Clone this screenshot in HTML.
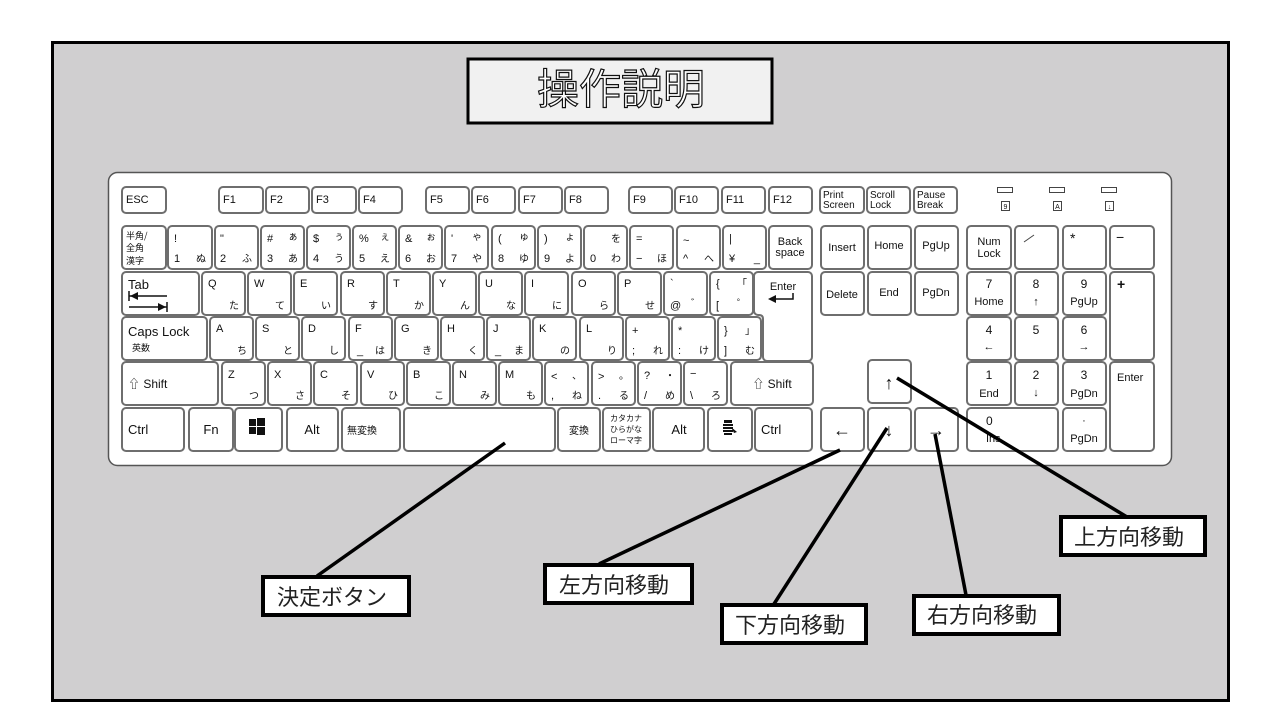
<!DOCTYPE html>
<html><head><meta charset="utf-8"><style>
html,body{margin:0;padding:0;background:#fff;}
svg{display:block}
.k{fill:#fff;stroke:#6e6e6e;stroke-width:2}
text{font-family:"Liberation Sans","Noto Sans CJK JP",sans-serif;fill:#111}
.s{font-size:11px}
.j{font-size:10px;font-family:"Noto Sans CJK JP",sans-serif}
.lb{font-size:22px;font-family:"Liberation Sans","Noto Sans CJK JP",sans-serif;fill:#222}
</style></head><body>
<svg width="1280" height="720" viewBox="0 0 1280 720" xmlns="http://www.w3.org/2000/svg">
<rect x="52.5" y="42.5" width="1176" height="658" fill="#d0cfd0" stroke="#000" stroke-width="3"/>
<rect x="468" y="59" width="304" height="64" fill="#f1f1f1" stroke="#000" stroke-width="3"/>
<text x="621" y="104" text-anchor="middle" style="font-size:42px;font-family:'Noto Sans CJK JP',sans-serif;fill:#fff;stroke:#111;stroke-width:1.2">操作説明</text>
<rect x="108.5" y="172.5" width="1063" height="293" rx="9" fill="#fff" stroke="#555" stroke-width="1.5"/>
<g class="s">
<rect class="k" x="122" y="187" width="44" height="26" rx="4"/><text x="126" y="203">ESC</text>
<rect class="k" x="219" y="187" width="44" height="26" rx="4"/><text x="223" y="203">F1</text>
<rect class="k" x="266" y="187" width="43" height="26" rx="4"/><text x="270" y="203">F2</text>
<rect class="k" x="312" y="187" width="44" height="26" rx="4"/><text x="316" y="203">F3</text>
<rect class="k" x="359" y="187" width="43" height="26" rx="4"/><text x="363" y="203">F4</text>
<rect class="k" x="426" y="187" width="43" height="26" rx="4"/><text x="430" y="203">F5</text>
<rect class="k" x="472" y="187" width="43" height="26" rx="4"/><text x="476" y="203">F6</text>
<rect class="k" x="519" y="187" width="43" height="26" rx="4"/><text x="523" y="203">F7</text>
<rect class="k" x="565" y="187" width="43" height="26" rx="4"/><text x="569" y="203">F8</text>
<rect class="k" x="629" y="187" width="43" height="26" rx="4"/><text x="633" y="203">F9</text>
<rect class="k" x="675" y="187" width="43" height="26" rx="4"/><text x="679" y="203">F10</text>
<rect class="k" x="722" y="187" width="43" height="26" rx="4"/><text x="726" y="203">F11</text>
<rect class="k" x="769" y="187" width="43" height="26" rx="4"/><text x="773" y="203">F12</text>
<rect class="k" x="820" y="187" width="44" height="26" rx="4"/><text x="823" y="198" style="font-size:10px">Print</text><text x="823" y="208" style="font-size:10px">Screen</text>
<rect class="k" x="867" y="187" width="43" height="26" rx="4"/><text x="870" y="198" style="font-size:10px">Scroll</text><text x="870" y="208" style="font-size:10px">Lock</text>
<rect class="k" x="914" y="187" width="43" height="26" rx="4"/><text x="917" y="198" style="font-size:10px">Pause</text><text x="917" y="208" style="font-size:10px">Break</text>
</g>
<g fill="#fff" stroke="#444" stroke-width="1">
<rect x="997.5" y="187.5" width="15" height="5"/><rect x="1001.5" y="201.5" width="8" height="9"/>
<rect x="1049.5" y="187.5" width="15" height="5"/><rect x="1053.5" y="201.5" width="8" height="9"/>
<rect x="1101.5" y="187.5" width="15" height="5"/><rect x="1105.5" y="201.5" width="8" height="9"/>
</g>
<text x="1005.5" y="209" text-anchor="middle" style="font-size:7px">9</text>
<text x="1057.5" y="209" text-anchor="middle" style="font-size:7px">A</text>
<text x="1109.5" y="209" text-anchor="middle" style="font-size:7px">↓</text>

<g class="s">
<rect class="k" x="122" y="226" width="44" height="43" rx="4"/>
<text class="j" x="126" y="239" style="font-size:9px">半角/</text><text class="j" x="126" y="251" style="font-size:9px">全角</text><text class="j" x="126" y="264" style="font-size:9px">漢字</text>
<rect class="k" x="168" y="226" width="44" height="43" rx="4"/><text x="174" y="242">!</text><text x="174" y="262">1</text><text class="j" x="206" y="262" text-anchor="end">ぬ</text>
<rect class="k" x="215" y="226" width="43" height="43" rx="4"/><text x="220" y="242">"</text><text x="220" y="262">2</text><text class="j" x="252" y="262" text-anchor="end">ふ</text>
<rect class="k" x="261" y="226" width="43" height="43" rx="4"/><text x="267" y="242">#</text><text class="j" x="298" y="240" text-anchor="end">ぁ</text><text x="267" y="262">3</text><text class="j" x="298" y="262" text-anchor="end">あ</text>
<rect class="k" x="307" y="226" width="43" height="43" rx="4"/><text x="313" y="242">$</text><text class="j" x="344" y="240" text-anchor="end">ぅ</text><text x="313" y="262">4</text><text class="j" x="344" y="262" text-anchor="end">う</text>
<rect class="k" x="353" y="226" width="43" height="43" rx="4"/><text x="359" y="242">%</text><text class="j" x="390" y="240" text-anchor="end">ぇ</text><text x="359" y="262">5</text><text class="j" x="390" y="262" text-anchor="end">え</text>
<rect class="k" x="399" y="226" width="43" height="43" rx="4"/><text x="405" y="242">&amp;</text><text class="j" x="436" y="240" text-anchor="end">ぉ</text><text x="405" y="262">6</text><text class="j" x="436" y="262" text-anchor="end">お</text>
<rect class="k" x="445" y="226" width="43" height="43" rx="4"/><text x="451" y="242">'</text><text class="j" x="482" y="240" text-anchor="end">ゃ</text><text x="451" y="262">7</text><text class="j" x="482" y="262" text-anchor="end">や</text>
<rect class="k" x="492" y="226" width="43" height="43" rx="4"/><text x="498" y="242">(</text><text class="j" x="529" y="240" text-anchor="end">ゅ</text><text x="498" y="262">8</text><text class="j" x="529" y="262" text-anchor="end">ゆ</text>
<rect class="k" x="538" y="226" width="43" height="43" rx="4"/><text x="544" y="242">)</text><text class="j" x="575" y="240" text-anchor="end">ょ</text><text x="544" y="262">9</text><text class="j" x="575" y="262" text-anchor="end">よ</text>
<rect class="k" x="584" y="226" width="43" height="43" rx="4"/><text class="j" x="621" y="242" text-anchor="end">を</text><text x="590" y="262">0</text><text class="j" x="621" y="262" text-anchor="end">わ</text>
<rect class="k" x="630" y="226" width="43" height="43" rx="4"/><text x="636" y="242">=</text><text x="636" y="262">−</text><text class="j" x="667" y="262" text-anchor="end">ほ</text>
<rect class="k" x="677" y="226" width="43" height="43" rx="4"/><text x="683" y="244">~</text><text x="683" y="262">^</text><text class="j" x="714" y="262" text-anchor="end">へ</text>
<rect class="k" x="723" y="226" width="43" height="43" rx="4"/><text x="729" y="242">|</text><text x="729" y="262">¥</text><text x="760" y="262" text-anchor="end">_</text>
<rect class="k" x="769" y="226" width="43" height="43" rx="4"/><text x="790" y="245" text-anchor="middle">Back</text><text x="790" y="256" text-anchor="middle">space</text>
</g>
<g class="s">
<rect class="k" x="122" y="272" width="77" height="43" rx="4"/><text x="128" y="289" style="font-size:13px">Tab</text>
<path d="M129 296h38M129 291v10M167 307h-38M167 302v10" stroke="#111" stroke-width="1.5" fill="none"/>
<path d="M130 296l8-4v8zM166 307l-8-4v8z" fill="#111"/>
<rect class="k" x="202" y="272" width="43" height="43" rx="4"/><text x="208" y="287">Q</text><text class="j" x="239" y="309" text-anchor="end">た</text>
<rect class="k" x="248" y="272" width="43" height="43" rx="4"/><text x="254" y="287">W</text><text class="j" x="285" y="309" text-anchor="end">て</text>
<rect class="k" x="294" y="272" width="43" height="43" rx="4"/><text x="300" y="287">E</text><text class="j" x="331" y="309" text-anchor="end">い</text>
<rect class="k" x="341" y="272" width="43" height="43" rx="4"/><text x="347" y="287">R</text><text class="j" x="378" y="309" text-anchor="end">す</text>
<rect class="k" x="387" y="272" width="43" height="43" rx="4"/><text x="393" y="287">T</text><text class="j" x="424" y="309" text-anchor="end">か</text>
<rect class="k" x="433" y="272" width="43" height="43" rx="4"/><text x="439" y="287">Y</text><text class="j" x="470" y="309" text-anchor="end">ん</text>
<rect class="k" x="479" y="272" width="43" height="43" rx="4"/><text x="485" y="287">U</text><text class="j" x="516" y="309" text-anchor="end">な</text>
<rect class="k" x="525" y="272" width="43" height="43" rx="4"/><text x="531" y="287">I</text><text class="j" x="562" y="309" text-anchor="end">に</text>
<rect class="k" x="572" y="272" width="43" height="43" rx="4"/><text x="578" y="287">O</text><text class="j" x="609" y="309" text-anchor="end">ら</text>
<rect class="k" x="618" y="272" width="43" height="43" rx="4"/><text x="624" y="287">P</text><text class="j" x="655" y="309" text-anchor="end">せ</text>
<rect class="k" x="664" y="272" width="43" height="43" rx="4"/><text x="670" y="287">`</text><text x="670" y="309">@</text><text class="j" x="701" y="307" text-anchor="end">゛</text>
<rect class="k" x="710" y="272" width="43" height="43" rx="4"/><text x="716" y="287">{</text><text class="j" x="747" y="287" text-anchor="end">「</text><text x="716" y="309">[</text><text class="j" x="747" y="307" text-anchor="end">゜</text>
<path class="k" d="M758 272h50a4 4 0 0 1 4 4v81a4 4 0 0 1-4 4h-41a4 4 0 0 1-4-4v-38q0-4-4-4h-1a4 4 0 0 1-4-4v-35a4 4 0 0 1 4-4z"/>
<text x="783" y="290" text-anchor="middle">Enter</text>
<path d="M770 299h23v-6" stroke="#111" stroke-width="1.5" fill="none"/>
<path d="M768 299l8-4v8z" fill="#111"/>
</g>
<g class="s">
<rect class="k" x="122" y="317" width="85" height="43" rx="4"/><text x="128" y="336" style="font-size:13px">Caps Lock</text><text class="j" x="132" y="351" style="font-size:9px">英数</text>
<rect class="k" x="210" y="317" width="43" height="43" rx="4"/><text x="216" y="332">A</text><text class="j" x="247" y="354" text-anchor="end">ち</text>
<rect class="k" x="256" y="317" width="43" height="43" rx="4"/><text x="262" y="332">S</text><text class="j" x="293" y="354" text-anchor="end">と</text>
<rect class="k" x="302" y="317" width="43" height="43" rx="4"/><text x="308" y="332">D</text><text class="j" x="339" y="354" text-anchor="end">し</text>
<rect class="k" x="349" y="317" width="43" height="43" rx="4"/><text x="355" y="332">F</text><text x="357" y="354">_</text><text class="j" x="385" y="354" text-anchor="end">は</text>
<rect class="k" x="395" y="317" width="43" height="43" rx="4"/><text x="401" y="332">G</text><text class="j" x="432" y="354" text-anchor="end">き</text>
<rect class="k" x="441" y="317" width="43" height="43" rx="4"/><text x="447" y="332">H</text><text class="j" x="478" y="354" text-anchor="end">く</text>
<rect class="k" x="487" y="317" width="43" height="43" rx="4"/><text x="493" y="332">J</text><text x="495" y="354">_</text><text class="j" x="524" y="354" text-anchor="end">ま</text>
<rect class="k" x="533" y="317" width="43" height="43" rx="4"/><text x="539" y="332">K</text><text class="j" x="570" y="354" text-anchor="end">の</text>
<rect class="k" x="580" y="317" width="43" height="43" rx="4"/><text x="586" y="332">L</text><text class="j" x="617" y="354" text-anchor="end">り</text>
<rect class="k" x="626" y="317" width="43" height="43" rx="4"/><text x="632" y="334">+</text><text x="632" y="354">;</text><text class="j" x="663" y="354" text-anchor="end">れ</text>
<rect class="k" x="672" y="317" width="43" height="43" rx="4"/><text x="678" y="334">*</text><text x="678" y="354">:</text><text class="j" x="709" y="354" text-anchor="end">け</text>
<rect class="k" x="718" y="317" width="43" height="43" rx="4"/><text x="724" y="334">}</text><text class="j" x="755" y="334" text-anchor="end">」</text><text x="724" y="354">]</text><text class="j" x="755" y="354" text-anchor="end">む</text>
</g>
<g class="s">
<rect class="k" x="122" y="362" width="96" height="43" rx="4"/><text x="128" y="388" style="font-size:12px">⇧ Shift</text>
<rect class="k" x="222" y="362" width="43" height="43" rx="4"/><text x="228" y="378">Z</text><text class="j" x="259" y="399" text-anchor="end">つ</text>
<rect class="k" x="268" y="362" width="43" height="43" rx="4"/><text x="274" y="378">X</text><text class="j" x="305" y="399" text-anchor="end">さ</text>
<rect class="k" x="314" y="362" width="43" height="43" rx="4"/><text x="320" y="378">C</text><text class="j" x="351" y="399" text-anchor="end">そ</text>
<rect class="k" x="361" y="362" width="43" height="43" rx="4"/><text x="367" y="378">V</text><text class="j" x="398" y="399" text-anchor="end">ひ</text>
<rect class="k" x="407" y="362" width="43" height="43" rx="4"/><text x="413" y="378">B</text><text class="j" x="444" y="399" text-anchor="end">こ</text>
<rect class="k" x="453" y="362" width="43" height="43" rx="4"/><text x="459" y="378">N</text><text class="j" x="490" y="399" text-anchor="end">み</text>
<rect class="k" x="499" y="362" width="43" height="43" rx="4"/><text x="505" y="378">M</text><text class="j" x="536" y="399" text-anchor="end">も</text>
<rect class="k" x="545" y="362" width="43" height="43" rx="4"/><text x="551" y="380">&lt;</text><text class="j" x="582" y="379" text-anchor="end">、</text><text x="551" y="399">,</text><text class="j" x="582" y="399" text-anchor="end">ね</text>
<rect class="k" x="592" y="362" width="43" height="43" rx="4"/><text x="598" y="380">&gt;</text><text class="j" x="629" y="379" text-anchor="end">。</text><text x="598" y="399">.</text><text class="j" x="629" y="399" text-anchor="end">る</text>
<rect class="k" x="638" y="362" width="43" height="43" rx="4"/><text x="644" y="379">?</text><text class="j" x="675" y="379" text-anchor="end">・</text><text x="644" y="399">/</text><text class="j" x="675" y="399" text-anchor="end">め</text>
<rect class="k" x="684" y="362" width="43" height="43" rx="4"/><text x="690" y="377">−</text><text x="690" y="399">\</text><text class="j" x="721" y="399" text-anchor="end">ろ</text>
<rect class="k" x="731" y="362" width="82" height="43" rx="4"/><text x="772" y="388" text-anchor="middle" style="font-size:12px">⇧ Shift</text>
</g>
<g class="s">
<rect class="k" x="122" y="408" width="62" height="43" rx="4"/><text x="128" y="434" style="font-size:13px">Ctrl</text>
<rect class="k" x="189" y="408" width="44" height="43" rx="4"/><text x="211" y="434" text-anchor="middle" style="font-size:13px">Fn</text>
<rect class="k" x="235" y="408" width="47" height="43" rx="4"/>
<g fill="#111"><rect x="249" y="419" width="7" height="7"/><rect x="257" y="418" width="8" height="8"/><rect x="249" y="427" width="7" height="7"/><rect x="257" y="427" width="8" height="8"/></g>
<rect class="k" x="287" y="408" width="51" height="43" rx="4"/><text x="312" y="434" text-anchor="middle" style="font-size:13px">Alt</text>
<rect class="k" x="342" y="408" width="58" height="43" rx="4"/><text class="j" x="347" y="434">無変換</text>
<rect class="k" x="404" y="408" width="151" height="43" rx="4"/>
<rect class="k" x="558" y="408" width="42" height="43" rx="4"/><text class="j" x="579" y="434" text-anchor="middle">変換</text>
<rect class="k" x="603" y="408" width="47" height="43" rx="4"/><text class="j" x="626" y="421" text-anchor="middle" style="font-size:8px">カタカナ</text><text class="j" x="626" y="432" text-anchor="middle" style="font-size:8px">ひらがな</text><text class="j" x="626" y="443" text-anchor="middle" style="font-size:8px">ローマ字</text>
<rect class="k" x="653" y="408" width="51" height="43" rx="4"/><text x="679" y="434" text-anchor="middle" style="font-size:13px">Alt</text>
<rect class="k" x="708" y="408" width="44" height="43" rx="4"/>
<g fill="#111"><rect x="724" y="420" width="8" height="3"/><rect x="723" y="424" width="10" height="2"/><rect x="723" y="427" width="10" height="2"/><rect x="723" y="430" width="10" height="2"/><rect x="724" y="433" width="8" height="2"/><path d="M731 427l6 5-3 1z"/></g>
<rect class="k" x="755" y="408" width="57" height="43" rx="4"/><text x="761" y="434" style="font-size:13px">Ctrl</text>
</g>
<g class="s">
<rect class="k" x="821" y="226" width="43" height="43" rx="4"/><text x="842" y="251" text-anchor="middle">Insert</text>
<rect class="k" x="868" y="226" width="43" height="43" rx="4"/><text x="889" y="249" text-anchor="middle">Home</text>
<rect class="k" x="915" y="226" width="43" height="43" rx="4"/><text x="936" y="249" text-anchor="middle">PgUp</text>
<rect class="k" x="821" y="272" width="43" height="43" rx="4"/><text x="842" y="298" text-anchor="middle">Delete</text>
<rect class="k" x="868" y="272" width="43" height="43" rx="4"/><text x="889" y="296" text-anchor="middle">End</text>
<rect class="k" x="915" y="272" width="43" height="43" rx="4"/><text x="936" y="296" text-anchor="middle">PgDn</text>
<rect class="k" x="868" y="360" width="43" height="43" rx="4"/><text x="889" y="389" text-anchor="middle" style="font-size:18px">↑</text>
<rect class="k" x="821" y="408" width="43" height="43" rx="4"/><text x="842" y="436" text-anchor="middle" style="font-size:18px">←</text>
<rect class="k" x="868" y="408" width="43" height="43" rx="4"/><text x="889" y="436" text-anchor="middle" style="font-size:18px">↓</text>
<rect class="k" x="915" y="408" width="43" height="43" rx="4"/><text x="936" y="436" text-anchor="middle" style="font-size:18px">→</text>
</g>
<g class="s">
<rect class="k" x="967" y="226" width="44" height="43" rx="4"/><text x="989" y="245" text-anchor="middle">Num</text><text x="989" y="257" text-anchor="middle">Lock</text>
<rect class="k" x="1015" y="226" width="43" height="43" rx="4"/><path d="M1024 242l10-7" stroke="#444"/>
<rect class="k" x="1063" y="226" width="43" height="43" rx="4"/><text x="1070" y="243" style="font-size:14px">*</text>
<rect class="k" x="1110" y="226" width="44" height="43" rx="4"/><text x="1116" y="242" style="font-size:14px">−</text>
<rect class="k" x="967" y="272" width="44" height="43" rx="4"/><text x="989" y="288" text-anchor="middle" style="font-size:12px">7</text><text x="989" y="305" text-anchor="middle">Home</text>
<rect class="k" x="1015" y="272" width="43" height="43" rx="4"/><text x="1036" y="288" text-anchor="middle" style="font-size:12px">8</text><text x="1036" y="305" text-anchor="middle">↑</text>
<rect class="k" x="1063" y="272" width="43" height="43" rx="4"/><text x="1084" y="288" text-anchor="middle" style="font-size:12px">9</text><text x="1084" y="305" text-anchor="middle">PgUp</text>
<rect class="k" x="1110" y="272" width="44" height="88" rx="4"/><text x="1117" y="289" style="font-size:14px;font-weight:bold">+</text>
<rect class="k" x="967" y="317" width="44" height="43" rx="4"/><text x="989" y="334" text-anchor="middle" style="font-size:12px">4</text><text x="989" y="350" text-anchor="middle">←</text>
<rect class="k" x="1015" y="317" width="43" height="43" rx="4"/><text x="1036" y="334" text-anchor="middle" style="font-size:12px">5</text>
<rect class="k" x="1063" y="317" width="43" height="43" rx="4"/><text x="1084" y="334" text-anchor="middle" style="font-size:12px">6</text><text x="1084" y="350" text-anchor="middle">→</text>
<rect class="k" x="967" y="362" width="44" height="43" rx="4"/><text x="989" y="379" text-anchor="middle" style="font-size:12px">1</text><text x="989" y="397" text-anchor="middle">End</text>
<rect class="k" x="1015" y="362" width="43" height="43" rx="4"/><text x="1036" y="379" text-anchor="middle" style="font-size:12px">2</text><text x="1036" y="396" text-anchor="middle">↓</text>
<rect class="k" x="1063" y="362" width="43" height="43" rx="4"/><text x="1084" y="379" text-anchor="middle" style="font-size:12px">3</text><text x="1084" y="397" text-anchor="middle">PgDn</text>
<rect class="k" x="1110" y="362" width="44" height="89" rx="4"/><text x="1117" y="381">Enter</text>
<rect class="k" x="967" y="408" width="91" height="43" rx="4"/><text x="986" y="425" style="font-size:12px">0</text><text x="986" y="442">Ins</text>
<rect class="k" x="1063" y="408" width="43" height="43" rx="4"/><text x="1084" y="424" text-anchor="middle">·</text><text x="1084" y="442" text-anchor="middle">PgDn</text>
</g>
<g stroke="#000" stroke-width="3.5">
<line x1="505" y1="443" x2="317" y2="576"/>
<line x1="840" y1="450" x2="599" y2="564"/>
<line x1="887" y1="428" x2="774" y2="604"/>
<line x1="935" y1="434" x2="966" y2="595"/>
<line x1="897" y1="378" x2="1127" y2="517"/>
</g>
<g fill="#fff" stroke="#000" stroke-width="4">
<rect x="263" y="577" width="146" height="38"/>
<rect x="545" y="565" width="147" height="38"/>
<rect x="722" y="605" width="144" height="38"/>
<rect x="914" y="596" width="145" height="38"/>
<rect x="1061" y="517" width="144" height="38"/>
</g>
<text class="lb" x="277" y="605">決定ボタン</text>
<text class="lb" x="559" y="593">左方向移動</text>
<text class="lb" x="735" y="633">下方向移動</text>
<text class="lb" x="927" y="623">右方向移動</text>
<text class="lb" x="1074" y="545">上方向移動</text>
</svg>
</body></html>
